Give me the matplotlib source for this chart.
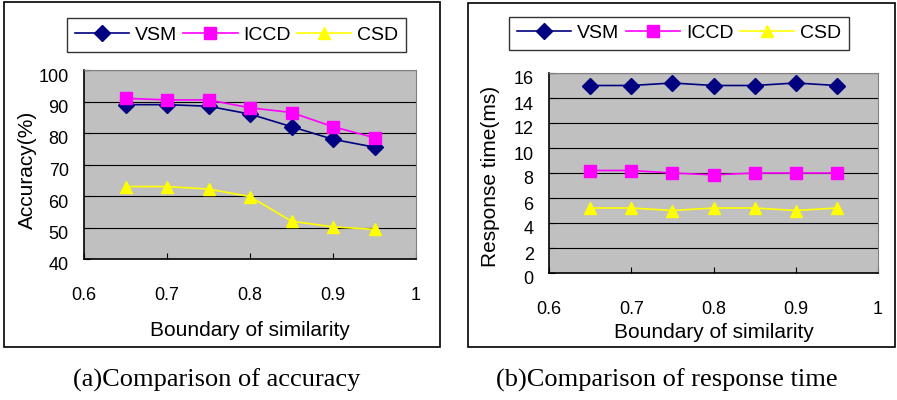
import matplotlib.pyplot as plt
import matplotlib.transforms as mtransforms
from matplotlib.patches import Rectangle

plt.rcParams['font.family'] = ['Liberation Sans', 'DejaVu Sans']

# data
x = [0.65, 0.70, 0.75, 0.80, 0.85, 0.90, 0.95]
acc_vsm = [89, 89, 88.5, 86, 82, 78, 75.5]
acc_iccd = [91, 90.5, 90.5, 88, 86.5, 82, 78.5]
acc_csd = [63, 63, 62.2, 59.8, 52, 50.2, 49.4]
rt_vsm = [15.0, 15.0, 15.2, 15.0, 15.0, 15.2, 15.0]
rt_iccd = [8.2, 8.2, 8.0, 7.85, 8.0, 8.0, 8.0]
rt_csd = [5.2, 5.2, 5.0, 5.2, 5.2, 5.0, 5.2]
xticks = [0.6, 0.7, 0.8, 0.9, 1.0]
xticklabels = ['0.6', '0.7', '0.8', '0.9', '1']
names = ['VSM', 'ICCD', 'CSD']

W, H = 897, 400
fig = plt.figure(figsize=(W / 100, H / 100), dpi=100)


def px_rect(x0, y0, x1, y1):
    # pixel box (top-left origin) -> figure fraction
    return [x0 / W, 1 - y1 / H, (x1 - x0) / W, (y1 - y0) / H]


def draw_panel(box, series, ylim, yticks, ylabel, ylab_xy, xlab_y,
               legend_box, frame_box, caption, cap_x):
    fr = px_rect(*frame_box)
    fig.add_artist(Rectangle((fr[0], fr[1]), fr[2], fr[3], transform=fig.transFigure,
                             fill=False, edgecolor='black', linewidth=1.2))
    ax = fig.add_axes(px_rect(*box))
    ax.set_facecolor('#c0c0c0')
    styles = [dict(color='#000080', marker='D', markersize=8),
              dict(color='#ff00ff', marker='s', markersize=9),
              dict(color='#ffff00', marker='^', markersize=9)]
    lines = []
    for ys, st, nm in zip(series, styles, names):
        ln, = ax.plot(x, ys, linewidth=1.2, markeredgecolor=st['color'], label=nm, **st)
        lines.append(ln)
    ax.set_xlim(0.6, 1.0)
    ax.set_ylim(*ylim)
    ax.set_xticks(xticks)
    ax.set_xticklabels(xticklabels)
    ax.set_yticks(yticks)
    ax.yaxis.grid(True, color='black', linewidth=0.8)
    ax.set_axisbelow(True)
    ax.tick_params(axis='x', direction='in', length=4, pad=20, labelsize=13)
    ax.tick_params(axis='y', direction='in', length=4, pad=11, labelsize=13)
    off = mtransforms.ScaledTranslation(0, -5 / 100, fig.dpi_scale_trans)
    for lb in ax.get_yticklabels():
        lb.set_transform(lb.get_transform() + off)
    for s in ['top', 'right']:
        ax.spines[s].set_color('#808080')
    for s in ['left', 'bottom']:
        ax.spines[s].set_color('black')
        ax.spines[s].set_linewidth(1.2)

    x0, y0, x1, y1 = box
    ax.set_ylabel(ylabel, fontsize=15, va='center')
    ax.yaxis.set_label_coords((ylab_xy[0] - x0) / (x1 - x0), (y1 - ylab_xy[1]) / (y1 - y0))
    ax.set_xlabel('Boundary of similarity', fontsize=15, va='center')
    ax.xaxis.set_label_coords(0.5, (y1 - xlab_y) / (y1 - y0))

    leg = fig.legend(lines, names, loc='center', bbox_to_anchor=px_rect(*legend_box),
                     mode='expand', ncol=3, fontsize=14, frameon=True, fancybox=False,
                     edgecolor='black', handlelength=2.8, handletextpad=0.3,
                     columnspacing=0.3, borderaxespad=0, borderpad=0.4)
    leg.get_frame().set_linewidth(1.0)
    fig.text(cap_x / W, 1 - 380 / H, caption, ha='center', va='center',
             fontsize=19, family='Liberation Serif')
    return ax


ax1 = draw_panel((84, 70, 416, 259), [acc_vsm, acc_iccd, acc_csd], (40, 100),
                 range(40, 101, 10), 'Accuracy(%)', (27, 170), 330,
                 (67, 16, 406, 54), (4, 2, 440, 347),
                 '(a)Comparison of accuracy', 217)
ax2 = draw_panel((549, 73, 878, 273), [rt_vsm, rt_iccd, rt_csd], (0, 16),
                 range(0, 17, 2), 'Response time(ms)', (490, 176), 333,
                 (509, 15, 849, 52), (468, 3, 895, 347),
                 '(b)Comparison of response time', 667)

fig.savefig('out.png', dpi=100)
